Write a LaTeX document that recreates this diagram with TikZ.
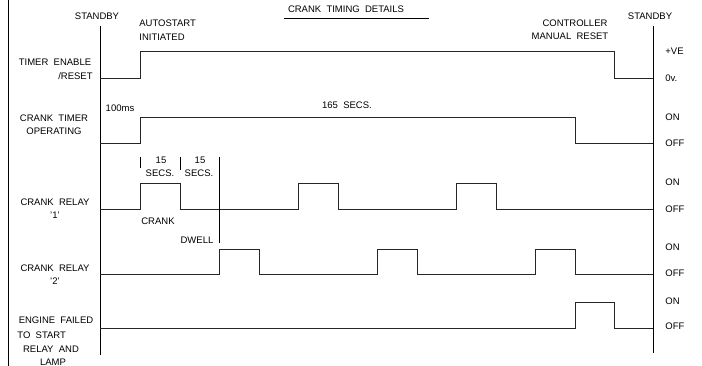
\documentclass[tikz,border=0pt]{standalone}
\usepackage{fontspec}
\setmainfont{Liberation Sans}
\usepackage{tikz}
\tikzstyle{graph}=[x=1pt, y=-1pt, line width=0.8pt, font=\fontsize{9.5}{11}\selectfont]
\tikzstyle{sig}=[line width=0.8pt, black!85]
\tikzstyle{tickln}=[line width=0.8pt]
\tikzstyle{txt}=[inner sep=0pt, align=center]
\tikzstyle{lvl}=[inner sep=0pt, anchor=west]
\tikzstyle{signame}=[inner sep=0pt, align=center]

\begin{document}
\begin{tikzpicture}[graph]
	\useasboundingbox (0,0) rectangle (702,366);
	% frame and axes
	\draw (8,0) -- (8,366);
	\draw (100,26) -- (100,355);
	\draw (653,26) -- (653,353);
	% title
	\draw (346,9) node[txt] (title) {CRANK \ TIMING \ DETAILS};
	\draw (284,18) -- (429,18);
	% top notes
	\draw (97,16) node[txt] (sbl) {STANDBY};
	\draw (139,23) node[txt, anchor=west] (auto) {AUTOSTART};
	\draw (139,37) node[txt, anchor=west] (init) {INITIATED};
	\draw (575,23) node[txt] (ctrl) {CONTROLLER};
	\draw (570,36) node[txt] (mreset) {MANUAL \ RESET};
	\draw (650,16) node[txt] (sbr) {STANDBY};
	% signal names
	\draw (55,62) node[signame] (n1) {TIMER \ ENABLE};
	\draw (93,76) node[signame, anchor=east] (n1b) {/RESET};
	\draw (54,118) node[signame] (n2) {CRANK \ TIMER};
	\draw (54,131) node[signame] (n2b) {OPERATING};
	\draw (55,202) node[signame] (n3) {CRANK \ RELAY};
	\draw (55,215) node[signame] (n3b) {'1'};
	\draw (55,268) node[signame] (n4) {CRANK \ RELAY};
	\draw (55,281) node[signame] (n4b) {'2'};
	\draw (56,320) node[signame] (n5) {ENGINE \ FAILED};
	\draw (17,335) node[signame, anchor=west] (n5b) {TO \ START};
	\draw (51,349) node[signame] (n5c) {RELAY \ AND};
	\draw (53,362) node[signame] (n5d) {LAMP};
	% levels
	\draw (665,51) node[lvl] (l1a) {+VE};
	\draw (665,78) node[lvl] (l1b) {0v.};
	\draw (665,117) node[lvl] (l2a) {ON};
	\draw (665,143) node[lvl] (l2b) {OFF};
	\draw (665,182) node[lvl] (l3a) {ON};
	\draw (665,209) node[lvl] (l3b) {OFF};
	\draw (665,247) node[lvl] (l4a) {ON};
	\draw (665,273) node[lvl] (l4b) {OFF};
	\draw (665,301) node[lvl] (l5a) {ON};
	\draw (665,326) node[lvl] (l5b) {OFF};
	% waveforms
	\draw[sig] (100,78) -- (140,78) -- (140,51) -- (614,51) -- (614,78) -- (653,78);
	\draw[sig] (100,143) -- (140,143) -- (140,117) -- (575,117) -- (575,143) -- (653,143);
	\draw[sig] (100,209) -- (140,209) -- (140,183) -- (180,183) -- (180,209)
		-- (298,209) -- (298,183) -- (338,183) -- (338,209)
		-- (456,209) -- (456,183) -- (496,183) -- (496,209) -- (653,209);
	\draw[sig] (100,274) -- (219,274) -- (219,249) -- (259,249) -- (259,274)
		-- (377,274) -- (377,249) -- (417,249) -- (417,274)
		-- (535,274) -- (535,249) -- (575,249) -- (575,274) -- (653,274);
	\draw[sig] (100,328) -- (575,328) -- (575,302) -- (614,302) -- (614,328) -- (653,328);
	% timing notes
	\draw (120,108) node[txt] (t100) {100ms};
	\draw (347,105) node[txt] (t165) {165 \ SECS.};
	\draw[tickln] (140,157) -- (140,168);
	\draw[tickln] (180,157) -- (180,170);
	\draw[tickln] (219,157) -- (219,243);
	\draw (161,160) node[txt] (c15) {15};
	\draw (160,173) node[txt] (csec) {SECS.};
	\draw (200,160) node[txt] (d15) {15};
	\draw (199,173) node[txt] (dsec) {SECS.};
	\draw (158,221) node[txt] (crank) {CRANK};
	\draw (197,240) node[txt] (dwell) {DWELL};
\end{tikzpicture}
\end{document}
